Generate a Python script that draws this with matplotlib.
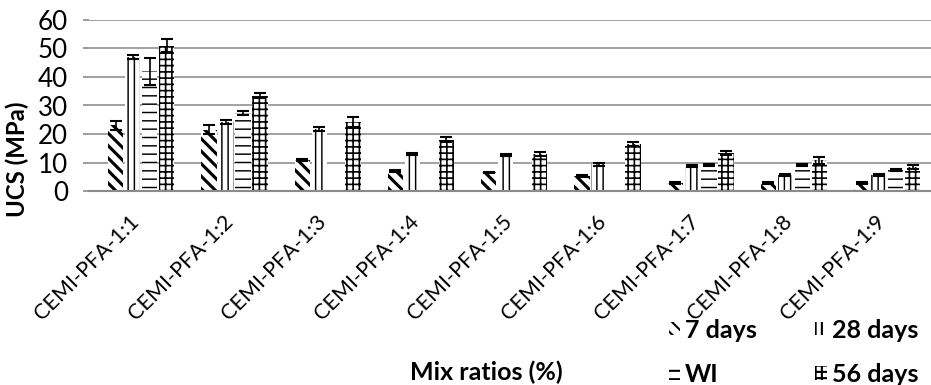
import numpy as np
import matplotlib
matplotlib.use('Agg')
import matplotlib.pyplot as plt
from matplotlib.patches import Patch
from matplotlib.transforms import ScaledTranslation

plt.rcParams['font.family'] = ['Lato', 'DejaVu Sans']

mixes = ['CEMI-PFA-1:1', 'CEMI-PFA-1:2', 'CEMI-PFA-1:3', 'CEMI-PFA-1:4', 'CEMI-PFA-1:5',
         'CEMI-PFA-1:6', 'CEMI-PFA-1:7', 'CEMI-PFA-1:8', 'CEMI-PFA-1:9']
nan = np.nan

ucs_7d = [23, 21.5, 11, 7, 6.5, 5.3, 2.9, 2.9, 2.8]
err_7d = [1.5, 1.5, 0.3, 0.3, 0.3, 0.3, 0.3, 0.3, 0.3]
ucs_28d = [47, 24.2, 21.8, 13, 12.6, 9.4, 8.8, 5.5, 5.5]
err_28d = [0.7, 0.8, 0.6, 0.3, 0.3, 0.6, 0.3, 0.3, 0.3]
ucs_wi = [42, 27.5, nan, nan, nan, nan, 9.2, 9.1, 7.3]
err_wi = [4.7, 0.7, nan, nan, nan, nan, 0.3, 0.3, 0.3]
ucs_56d = [51, 33.5, 24.2, 18, 13, 16.5, 13.3, 10.8, 8.5]
err_56d = [2.4, 1.0, 1.6, 0.8, 0.7, 0.8, 0.8, 1.3, 0.7]

series = [
    ('7 days', ucs_7d, err_7d, '\\\\\\\\', 1.5),
    ('28 days', ucs_28d, err_28d, '||||', 0.7),
    ('WI', ucs_wi, err_wi, '---', 0.7),
    ('56 days', ucs_56d, err_56d, '++++', 0.8),
]

DPI = 150
fig = plt.figure(figsize=(931 / DPI, 385 / DPI), dpi=DPI)
ax = fig.add_axes([89 / 931, 1 - 191 / 385, 1 - 89 / 931, 171 / 385])

x = np.arange(len(mixes))
w = 0.165
step = 0.182
handles = []
for k, (name, vals, errs, hatch, hlw) in enumerate(series):
    pos = x + (k - 1.5) * step
    with plt.rc_context({'hatch.linewidth': hlw}):
        ax.bar(pos, vals, w, color='white', edgecolor='black', linewidth=0,
               hatch=hatch, zorder=2)
        handles.append(Patch(facecolor='white', edgecolor='black', linewidth=0,
                             hatch=hatch, label=name))
    ax.errorbar(pos, vals, yerr=errs, fmt='none', ecolor='black', elinewidth=0.8,
                capsize=2.8, capthick=1.0, zorder=3)

ax.set_ylim(0, 60)
ax.set_xlim(-0.56, 8.47)
ax.set_yticks(range(0, 61, 10))
ax.yaxis.grid(True, color='#8a8a8a', linewidth=0.75, zorder=0)
ax.set_axisbelow(True)
for s in ['top', 'right', 'left']:
    ax.spines[s].set_visible(False)
ax.spines['bottom'].set_color('#8a8a8a')
ax.spines['bottom'].set_linewidth(1.0)
ax.tick_params(axis='y', length=3, color='#8a8a8a', labelsize=12.5, pad=7)
ax.tick_params(axis='x', length=0, labelsize=10.3, pad=0)

ax.set_xticks(x)
ax.set_xticklabels(mixes, rotation=45, ha='right', va='top', rotation_mode='anchor')
shift = ScaledTranslation(-12 / DPI, -20 / DPI, fig.dpi_scale_trans)
for lbl in ax.get_xticklabels():
    lbl.set_transform(lbl.get_transform() + shift)

fig.text(17 / 931, 1 - 159 / 385, 'UCS (MPa)', rotation=90, ha='center', va='center',
         fontsize=11.5, fontweight='bold')
fig.text(486 / 931, 1 - 372 / 385, 'Mix ratios (%)', ha='center', va='center',
         fontsize=12, fontweight='bold')

order = [handles[0], handles[2], handles[1], handles[3]]
fig.legend(handles=order, ncol=2, loc='upper left', bbox_to_anchor=(656 / 931, 1 - 306 / 385),
           frameon=False, prop={'weight': 'bold', 'size': 12}, handlelength=0.45,
           handleheight=0.45, handletextpad=0.2, columnspacing=2.35, labelspacing=0.85,
           borderpad=0)

fig.savefig('out.png', dpi=DPI)
